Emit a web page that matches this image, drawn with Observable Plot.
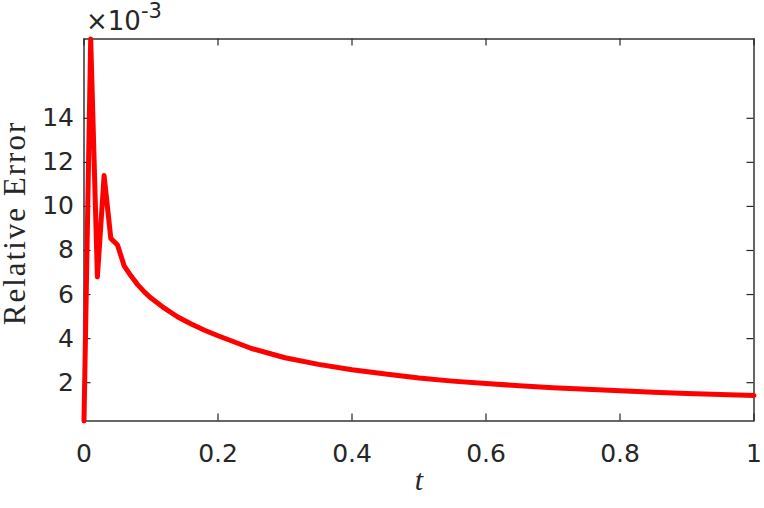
<!DOCTYPE html>
<html>
<head>
<meta charset="utf-8">
<script src="https://cdn.jsdelivr.net/npm/d3@7"></script>
<script src="https://cdn.jsdelivr.net/npm/@observablehq/plot@0.6"></script>
<style>
  html, body { margin: 0; padding: 0; background: #fff; }
  #chart { width: 764px; height: 508px; }
</style>
</head>
<body>
<div id="chart"></div>
<script>
// Time values
const t = [0, 0.01, 0.02, 0.03, 0.04, 0.05, 0.06, 0.07, 0.08, 0.09, 0.10,
           0.12, 0.14, 0.16, 0.18, 0.20, 0.25, 0.30, 0.35, 0.40, 0.45,
           0.50, 0.55, 0.60, 0.65, 0.70, 0.75, 0.80, 0.85, 0.90, 0.95, 1.00];
// Relative error, in units of 10^-3
const relErr = [0.26, 17.6, 6.8, 11.4, 8.55, 8.25, 7.3, 6.85, 6.45, 6.12, 5.84,
                5.38, 4.98, 4.66, 4.38, 4.13, 3.55, 3.13, 2.83, 2.59, 2.39,
                2.21, 2.07, 1.96, 1.86, 1.77, 1.70, 1.63, 1.57, 1.51, 1.46, 1.42];
const xTicks = [0, 0.2, 0.4, 0.6, 0.8, 1];
const xTickLabels = ["0", "0.2", "0.4", "0.6", "0.8", "1"];
const yTicks = [2, 4, 6, 8, 10, 12, 14];
const yTickLabels = ["2", "4", "6", "8", "10", "12", "14"];
const yDomain = [0.26, 17.6];
const xLabel = "t";
const yLabel = "Relative Error";
const multiplierBase = "×10";
const multiplierExp = "-3";

const data = t.map((d, i) => ({t: d, e: relErr[i]}));

const W = 764, H = 508;
const mL = 83.5, mR = 10.5, mT = 38.5, mB = 87.5;
const plotH = H - mT - mB, plotW = W - mL - mR;
const tickLen = 7;
const axisColor = "#262626";
const sans = "'DejaVu Sans', 'Liberation Sans', Arial, sans-serif";
const serif = "'Liberation Serif', 'Times New Roman', serif";

const chart = Plot.plot({
  width: W, height: H,
  marginLeft: mL, marginRight: mR, marginTop: mT, marginBottom: mB,
  style: {fontFamily: sans, fontSize: "25px", color: axisColor, background: "#fff", overflow: "visible"},
  x: {domain: [0, 1]},
  y: {domain: yDomain},
  marks: [
    Plot.axisX(xTicks, {tickSize: 0, tickPadding: 23, label: null, fontSize: 25,
      tickFormat: d => xTickLabels[xTicks.indexOf(d)]}),
    Plot.axisY(yTicks, {tickSize: 0, tickPadding: 10, label: null, fontSize: 25,
      tickFormat: d => yTickLabels[yTicks.indexOf(d)]}),
    Plot.tickX(xTicks, {x: d => d, insetTop: plotH - tickLen, stroke: axisColor, strokeWidth: 1.2}),
    Plot.tickX(xTicks, {x: d => d, insetBottom: plotH - tickLen, stroke: axisColor, strokeWidth: 1.2}),
    Plot.tickY(yTicks, {y: d => d, insetRight: plotW - tickLen, stroke: axisColor, strokeWidth: 1.2}),
    Plot.tickY(yTicks, {y: d => d, insetLeft: plotW - tickLen, stroke: axisColor, strokeWidth: 1.2}),
    Plot.frame({stroke: axisColor, strokeWidth: 1.4}),
    Plot.line(data, {x: "t", y: "e", stroke: "#ff0000", strokeWidth: 5, strokeLinejoin: "round", strokeLinecap: "round"}),
    Plot.text([yLabel], {frameAnchor: "left", textAnchor: "middle", dx: -69, dy: -7, rotate: -90, className: "ylab",
      fontFamily: serif, fontSize: 31, fill: axisColor}),
    Plot.text([xLabel], {frameAnchor: "bottom", dy: 69, fontStyle: "italic",
      fontFamily: serif, fontSize: 30, fill: axisColor})
  ]
});

document.getElementById("chart").appendChild(chart);

const svg = d3.select(chart);
svg.select(".ylab text").style("letter-spacing", "2px");

const mult = svg.append("text")
  .attr("x", 86).attr("y", 30)
  .attr("fill", axisColor)
  .attr("text-anchor", "start")
  .style("font-family", sans)
  .style("font-size", "26px");
mult.append("tspan").text(multiplierBase);
mult.append("tspan").attr("dy", -11.7).style("font-size", "21px").text(multiplierExp);
</script>
</body>
</html>
